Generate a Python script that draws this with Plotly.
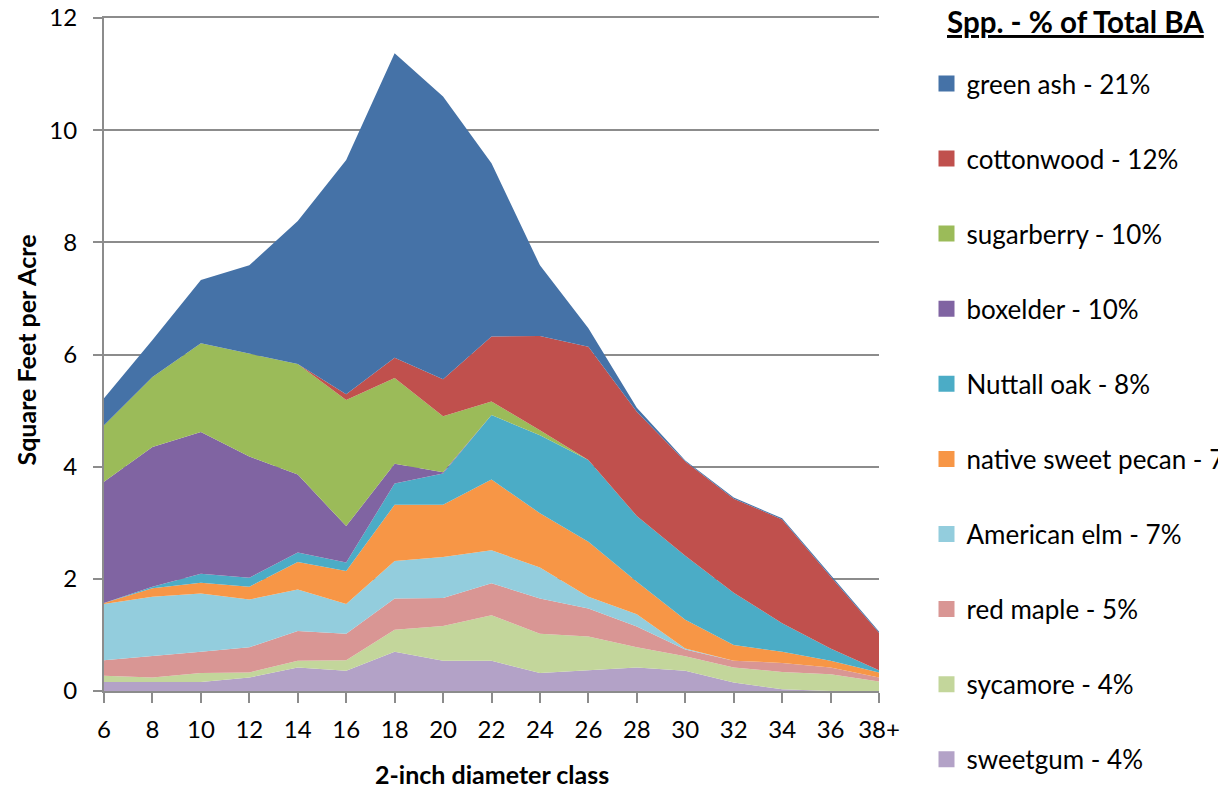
import plotly.graph_objects as go

# diameter classes (inches)
classes = ["6", "8", "10", "12", "14", "16", "18", "20", "22", "24",
           "26", "28", "30", "32", "34", "36", "38+"]

# basal area by species, square feet per acre (bottom of the stack first)
sweetgum = [0.16, 0.16, 0.16, 0.24, 0.42, 0.36, 0.70, 0.54, 0.54, 0.32,
            0.37, 0.42, 0.36, 0.15, 0.03, 0.00, 0.00]
sycamore = [0.11, 0.08, 0.16, 0.09, 0.12, 0.19, 0.39, 0.62, 0.81, 0.70,
            0.60, 0.36, 0.26, 0.27, 0.31, 0.30, 0.17]
red_maple = [0.28, 0.38, 0.38, 0.45, 0.53, 0.47, 0.56, 0.50, 0.57, 0.63,
             0.50, 0.37, 0.12, 0.12, 0.16, 0.12, 0.07]
american_elm = [1.00, 1.06, 1.04, 0.85, 0.74, 0.53, 0.67, 0.73, 0.59, 0.55,
                0.21, 0.22, 0.02, 0.00, 0.00, 0.00, 0.00]
sweet_pecan = [0.02, 0.15, 0.19, 0.23, 0.49, 0.59, 1.00, 0.93, 1.26, 0.97,
               0.98, 0.58, 0.51, 0.28, 0.20, 0.12, 0.09]
nuttall_oak = [0.00, 0.03, 0.16, 0.16, 0.17, 0.15, 0.38, 0.56, 1.15, 1.39,
               1.46, 1.17, 1.14, 0.93, 0.51, 0.22, 0.04]
boxelder = [2.16, 2.49, 2.53, 2.16, 1.39, 0.65, 0.35, 0.02, 0.00, 0.00,
            0.00, 0.00, 0.00, 0.00, 0.00, 0.00, 0.00]
sugarberry = [1.01, 1.25, 1.58, 1.83, 1.97, 2.25, 1.53, 1.00, 0.24, 0.09,
              0.00, 0.00, 0.00, 0.00, 0.00, 0.00, 0.00]
cottonwood = [0.00, 0.00, 0.00, 0.00, 0.00, 0.10, 0.36, 0.66, 1.16, 1.68,
              2.02, 1.86, 1.68, 1.68, 1.85, 1.28, 0.67]
green_ash = [0.48, 0.66, 1.13, 1.58, 2.55, 4.18, 5.43, 5.04, 3.09, 1.26,
             0.33, 0.07, 0.02, 0.02, 0.02, 0.02, 0.02]

series = [
    ("sweetgum - 4%", sweetgum, "#B3A2C7"),
    ("sycamore - 4%", sycamore, "#C3D69B"),
    ("red maple - 5%", red_maple, "#D99694"),
    ("American elm - 7%", american_elm, "#93CDDD"),
    ("native sweet pecan - 7%", sweet_pecan, "#F79646"),
    ("Nuttall oak - 8%", nuttall_oak, "#4BACC6"),
    ("boxelder - 10%", boxelder, "#8064A2"),
    ("sugarberry - 10%", sugarberry, "#9BBB59"),
    ("cottonwood - 12%", cottonwood, "#C0504D"),
    ("green ash - 21%", green_ash, "#4572A7"),
]

FONT = "Lato, Arial, sans-serif"
GRID = "#8C8C8C"

fig = go.Figure()
for name, vals, color in series:
    fig.add_trace(go.Scatter(
        x=classes, y=vals, name=name, mode="lines",
        stackgroup="ba", line=dict(width=0, color=color),
        fillcolor=color, showlegend=False, hoverinfo="x+y+name",
    ))

# square swatches for the legend (Excel style), top of stack listed first
for name, vals, color in reversed(series):
    fig.add_trace(go.Scatter(
        x=[None], y=[None], name=name, mode="markers", legendgroup=name,
        marker=dict(symbol="square", size=16, color=color),
    ))

fig.update_layout(
    width=1226, height=790,
    margin=dict(l=96, r=354.5, t=10, b=107, autoexpand=False),
    paper_bgcolor="white", plot_bgcolor="white",
    font=dict(family=FONT, size=24, color="#000000"),
    showlegend=True,
    legend=dict(
        traceorder="grouped", x=1.0613, xanchor="left",
        y=0.9376, yanchor="top", maxheight=790,
        font=dict(size=26, family=FONT), tracegroupgap=38.3,
        bgcolor="rgba(0,0,0,0)",
    ),
    xaxis=dict(
        type="category", range=[0, len(classes) - 1],
        showline=True, linecolor=GRID, linewidth=2, mirror=True,
        ticks="outside", ticklen=10, tickwidth=2, tickcolor=GRID,
        showgrid=False, tickfont=dict(size=24), ticklabelstandoff=6,
        ticklabeloverflow="allow",
    ),
    yaxis=dict(
        range=[0, 12], dtick=2, showline=True, linecolor=GRID, linewidth=2,
        ticks="outside", ticklen=9, tickwidth=2, tickcolor=GRID,
        showgrid=True, gridcolor=GRID, gridwidth=2, zeroline=False,
        tickfont=dict(size=24), ticklabelstandoff=11,
        ticklabeloverflow="allow",
    ),
    annotations=[
        dict(text="<b>Square Feet per Acre</b>", xref="paper", yref="paper",
             x=0, y=0.5, xanchor="center", yanchor="middle", xshift=-79,
             yshift=4, textangle=-90, showarrow=False,
             font=dict(size=25, family=FONT)),
        dict(text="<b>2-inch diameter class</b>", xref="paper", yref="paper",
             x=0.5, y=0, xanchor="center", yanchor="middle", yshift=-83,
             showarrow=False, font=dict(size=25, family=FONT)),
        dict(text="<b><u>Spp. - % of Total BA</u></b>", xref="paper",
             yref="paper", x=1.0, xanchor="left", xshift=66, y=1.0,
             yanchor="middle", yshift=-3, showarrow=False,
             font=dict(size=29.5, family=FONT)),
    ],
)

fig.write_html("out.html")
